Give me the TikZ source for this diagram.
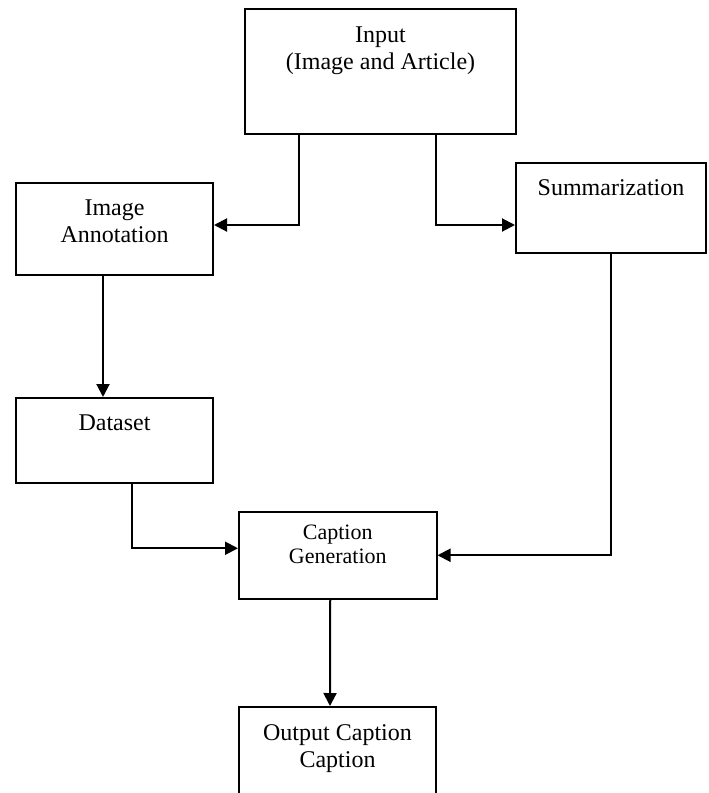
\documentclass[tikz,border=0pt]{standalone}
\usepackage{fontspec}
\setmainfont{Liberation Serif}
\usetikzlibrary{arrows.meta, positioning}
\tikzset{
block/.style={draw, line width=1pt, rectangle, inner sep=0pt}, % the boxes, text is put in separately
txt/.style={anchor=north, align=center, inner sep=0pt, font=\fontsize{12}{13.5}\selectfont}, % text at the top of a box
arr/.style={-{Triangle[length=6.5pt,width=6.5pt]}, line width=1pt}, % the connectors
}

\begin{document}
\begin{tikzpicture}[x=0.5pt,y=-0.5pt]
        \useasboundingbox (0,0) rectangle (708,793);
        \clip (0,0) rectangle (708,793);
        \node[block, minimum width=135.5pt, minimum height=62.5pt] at (380.5,71.5) (inp) {};
        \node[block, minimum width=98.5pt, minimum height=46pt] at (114.5,229) (ann) {};
        \node[block, minimum width=95pt, minimum height=45pt] at (611,208) (summ) {};
        \node[block, minimum width=98.5pt, minimum height=42.5pt] at (114.5,440.5) (data) {};
        \node[block, minimum width=98.75pt, minimum height=43.25pt] at (337.75,555.25) (gen) {};
        \node[block, minimum width=98.5pt, minimum height=53pt] at (337.5,760) (out) {};
        \node[txt, below=9pt of inp.north] (inptxt) {Input\\(Image and Article)};
        \node[txt, below=8.5pt of ann.north] (anntxt) {Image\\Annotation};
        \node[txt, below=8.5pt of summ.north] (summtxt) {Summarization};
        \node[txt, below=8.5pt of data.north] (datatxt) {Dataset};
        \node[txt, below=7pt of gen.north, font=\fontsize{11}{12}\selectfont] (gentxt) {Caption\\Generation};
        \node[txt, below=9pt of out.north] (outtxt) {Output Caption\\Caption};
        \draw[arr]
        ([xshift=-40.75pt]inp.south) |- ([yshift=2pt]ann.east);
        \draw[arr]
        ([xshift=27.5pt]inp.south) |- ([yshift=2pt]ann.east -| summ.west);
        \draw[arr]
        ([xshift=-5.75pt]ann.south) -- ([xshift=-5.75pt]data.north);
        \draw[arr]
        ([xshift=8.75pt]data.south) |- ([yshift=3.5pt]gen.west);
        \draw[arr]
        (summ.south) |- (gen.east);
        \draw[arr]
        ([xshift=-3.75pt]gen.south) -- ([xshift=-3.75pt]out.north);
    \end{tikzpicture}
\end{document}
